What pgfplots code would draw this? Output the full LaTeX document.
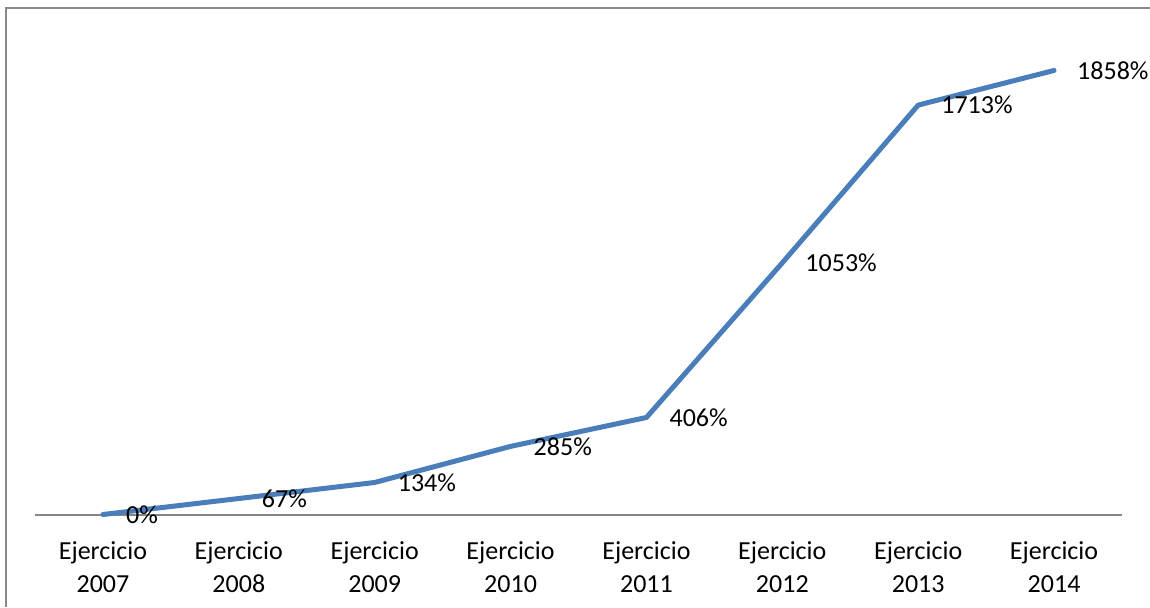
\documentclass[border=0pt]{standalone}
\usepackage{pgfplots}
\pgfplotsset{compat=1.18}
\usepackage{fontspec}
\setmainfont{Carlito}
\definecolor{serieblue}{HTML}{4A7EBB}
\definecolor{axisgray}{HTML}{868686}
\definecolor{framegray}{HTML}{8A8A8A}

\pgfplotstableread{
x y label
0 0    0\%
1 67   67\%
2 134  134\%
3 285  285\%
4 406  406\%
5 1053 1053\%
6 1713 1713\%
7 1858 1858\%
}\crecimiento

\begin{document}
\begin{tikzpicture}
\path[use as bounding box] (0,0) rectangle (575pt,303.5pt);
% chart frame (left and top edges)
\draw[framegray, line width=1pt] (2.75pt,0) -- (2.75pt,299.75pt) -- (575pt,299.75pt);
\begin{axis}[
  at={(17.5pt,46.25pt)}, anchor=south west,
  scale only axis,
  width=543.5pt, height=239pt,
  xmin=-0.5, xmax=7.5,
  ymin=0, ymax=2000,
  axis x line*=bottom,
  axis y line=none,
  x axis line style={axisgray, line width=1pt},
  xtick=data,
  xticklabels={{Ejercicio\\2007},{Ejercicio\\2008},{Ejercicio\\2009},{Ejercicio\\2010},{Ejercicio\\2011},{Ejercicio\\2012},{Ejercicio\\2013},{Ejercicio\\2014}},
  xticklabel style={align=center, font=\fontsize{13}{16.5}\selectfont, text=black, anchor=north, yshift=-10pt},
  major tick length=0pt,
  clip=false,
  nodes near coords,
  point meta=explicit symbolic,
  every node near coord/.append style={anchor=west, xshift=7pt, yshift=0pt, font=\fontsize{13}{15}\selectfont, text=black},
]
\addplot[serieblue, line width=2.5pt, line join=round, line cap=round, mark=none]
  table[x=x, y=y, meta=label] {\crecimiento};
\end{axis}
\end{tikzpicture}
\end{document}
